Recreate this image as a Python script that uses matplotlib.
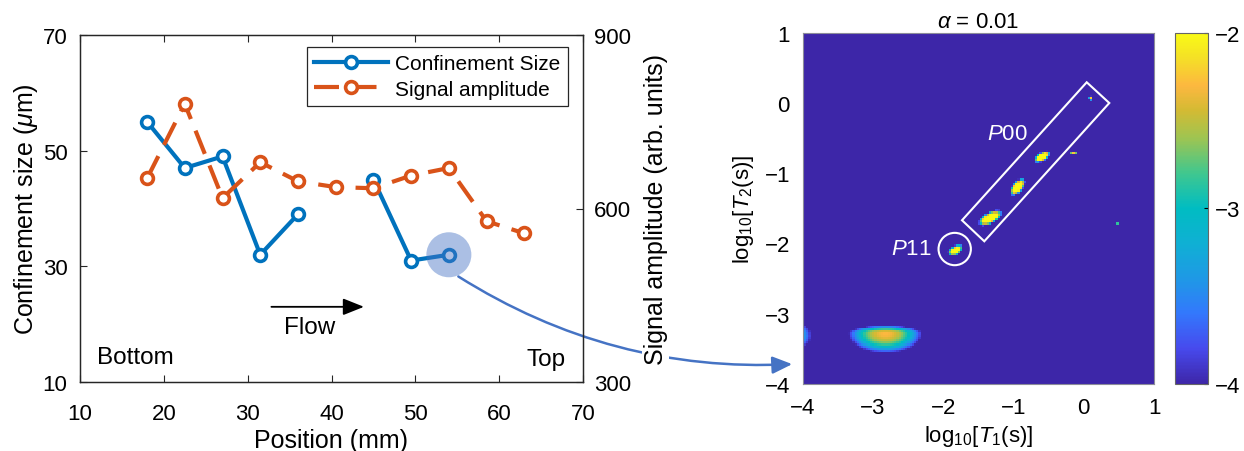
import numpy as np
import matplotlib
matplotlib.use("Agg")
import matplotlib.pyplot as plt
from matplotlib.colors import LinearSegmentedColormap
from matplotlib.patches import Ellipse, Polygon, Circle, FancyArrowPatch

plt.rcParams['font.family'] = ['Liberation Sans', 'DejaVu Sans']
plt.rcParams['mathtext.fontset'] = 'custom'
plt.rcParams['mathtext.rm'] = 'Liberation Sans'
plt.rcParams['mathtext.it'] = 'Liberation Sans:italic'
plt.rcParams['mathtext.bf'] = 'Liberation Sans:bold'

# ---------------- data: left panel ----------------
position_mm = [18, 22.5, 27, 31.5, 36, 40.5, 45, 49.5, 54, 58.5, 63]
confinement_um = [55, 47, 49, 32, 39, np.nan, 45, 31, 32, np.nan, np.nan]
signal_amplitude = [652, 781, 618, 680, 647, 637, 635, 657, 670, 578, 557]
highlight_index = 8
xticks_left = [10, 20, 30, 40, 50, 60, 70]
yticks_left = [10, 30, 50, 70]
yticks_right = [300, 600, 900]

# ---------------- data: T1-T2 map (log10 amplitude peaks) ----------------
peak_t1 = [-2.83, -4.10, -1.34, -0.95, -0.60, -1.83, 0.09, -0.156, 0.469]
peak_t2 = [-3.28, -3.31, -1.64, -1.20, -0.77, -2.10, 0.06, -0.719, -1.719]
peak_level = [-2.30, -3.10, -1.0, -1.0, -1.0, -1.4, -2.2, -2.25, -2.85]
peak_s_major = [0.185, 0.105, 0.050, 0.040, 0.035, 0.035, 0.012, 0.022, 0.010]
peak_s_minor_up = [0.040, 0.090, 0.022, 0.020, 0.016, 0.020, 0.012, 0.008, 0.010]
peak_s_minor_down = [0.100, 0.090, 0.022, 0.020, 0.016, 0.020, 0.012, 0.008, 0.010]
peak_angle_deg = [0, 0, 28, 50, 30, 30, 0, 0, 0]
map_ticks = [-4, -3, -2, -1, 0, 1]
cbar_ticks = [-4, -3, -2]
p00_box_corners = [(0.043, 0.292), (0.364, -0.003), (-1.414, -1.970), (-1.731, -1.671)]
p11_circle = (-1.835, -2.08, 0.23)

# ---------------- colours ----------------
blue = (0.0, 0.447, 0.741)
orange = (0.85, 0.325, 0.098)
axc = (0.15, 0.15, 0.15)
parula = LinearSegmentedColormap.from_list('parula', [
    (0.00, (0.242, 0.150, 0.660)),
    (0.10, (0.278, 0.290, 0.930)),
    (0.20, (0.200, 0.470, 0.990)),
    (0.30, (0.120, 0.600, 0.900)),
    (0.40, (0.060, 0.690, 0.830)),
    (0.50, (0.000, 0.740, 0.760)),
    (0.60, (0.250, 0.780, 0.560)),
    (0.70, (0.620, 0.770, 0.320)),
    (0.78, (0.830, 0.730, 0.200)),
    (0.85, (0.990, 0.720, 0.250)),
    (0.93, (0.960, 0.880, 0.150)),
    (1.00, (0.977, 0.984, 0.081)),
])

W, H = 1244, 452
fig = plt.figure(figsize=(W / 100, H / 100), dpi=100)
fig.patch.set_facecolor('white')

ax = fig.add_axes([80 / W, 1 - 383 / H, 503 / W, 347 / H])
ax.set_facecolor('none')
ax2 = ax.twinx()
ax2.set_facecolor('none')

l1, = ax.plot(position_mm, confinement_um, '-o', color=blue, lw=3, ms=8.5,
              mew=2.6, mfc='white', mec=blue, label='Confinement Size', zorder=3)
l2, = ax2.plot(position_mm, signal_amplitude, 'o', linestyle=(0, (6, 3)), color=orange,
               lw=3, ms=8.5, mew=2.6, mfc='white', mec=orange, label='Signal amplitude')

hx, hy = position_mm[highlight_index], confinement_um[highlight_index]
ax.add_patch(Ellipse((hx, hy), width=45 / (503 / 60), height=45 / (347 / 60),
                     facecolor=(0.27, 0.45, 0.77), alpha=0.45, edgecolor='none', zorder=4))

ax.set_xlim(10, 70)
ax.set_ylim(10, 70)
ax2.set_ylim(300, 900)
ax.set_xticks(xticks_left)
ax.set_yticks(yticks_left)
ax2.set_yticks(yticks_right)
ax.tick_params(direction='in', length=5, width=0.8, color=axc, labelcolor='black',
               labelsize=16, top=True)
ax.tick_params(axis='y', pad=9)
ax.tick_params(axis='x', pad=15)
ax2.tick_params(direction='in', length=5, width=0.8, color=axc, labelcolor='black',
                labelsize=16, pad=8)
for a in (ax, ax2):
    for s in a.spines.values():
        s.set_color(axc)
        s.set_linewidth(0.9)

ax.set_xlabel('Position (mm)', fontsize=18, labelpad=3)
ax.set_ylabel(r'Confinement size ($\mu$m)', fontsize=18, labelpad=2)
ax2.set_ylabel('Signal amplitude (arb. units)', fontsize=18, labelpad=9,
               bbox=dict(facecolor='white', edgecolor='none', pad=1))

leg = ax2.legend(handles=[l1, l2], loc='upper right', bbox_to_anchor=(0.970, 0.965),
                 borderaxespad=0, fontsize=15, handlelength=3.55, fancybox=False,
                 framealpha=1, edgecolor=axc, borderpad=0.35, labelspacing=0.3,
                 handletextpad=0.35)
leg.get_frame().set_linewidth(0.9)

ax.annotate('', xy=(44.2, 23.0), xytext=(32.5, 23.0),
            arrowprops=dict(arrowstyle='-|>,head_length=0.8,head_width=0.32', color='black', lw=1.3,
                            mutation_scale=16))
ax.text(37.4, 19.5, 'Flow', fontsize=17.5, ha='center', va='center')
ax.text(12.0, 14.3, 'Bottom', fontsize=17.5, ha='left', va='center')
ax.text(67.9, 14.0, 'Top', fontsize=17.5, ha='right', va='center')

# ---------------- T1-T2 map ----------------
hm = fig.add_axes([802.5 / W, 1 - 385 / H, 351.5 / W, 351.5 / H])
grid = np.linspace(-4, 1, 161)
T1, T2 = np.meshgrid(grid, grid)
lin = np.full_like(T1, 1e-12)
for t1, t2, lv, sa, su, sd, ang in zip(peak_t1, peak_t2, peak_level, peak_s_major,
                                       peak_s_minor_up, peak_s_minor_down, peak_angle_deg):
    th = np.deg2rad(ang)
    dx, dy = T1 - t1, T2 - t2
    u = dx * np.cos(th) + dy * np.sin(th)
    v = -dx * np.sin(th) + dy * np.cos(th)
    sv = np.where(v >= 0, su, sd)
    lin += 10 ** lv * np.exp(-0.5 * ((u / sa) ** 2 + (v / sv) ** 2))
Z = np.log10(lin)
step = grid[1] - grid[0]
im = hm.imshow(Z, origin='lower', cmap=parula, vmin=-4, vmax=-2, interpolation='nearest',
               extent=[grid[0] - step / 2, grid[-1] + step / 2, grid[0] - step / 2, grid[-1] + step / 2],
               aspect='auto')
hm.set_xlim(-4, 1)
hm.set_ylim(-4, 1)
hm.set_xticks(map_ticks)
hm.set_yticks(map_ticks)
hm.tick_params(length=0, labelsize=16, pad=9)
for s in hm.spines.values():
    s.set_color((0.55, 0.55, 0.6))
    s.set_linewidth(0.8)
hm.set_xlabel(r'$\mathrm{log}_{10}[T_1(\mathrm{s})]$', fontsize=16, labelpad=4)
hm.set_ylabel(r'$\mathrm{log}_{10}[T_2(\mathrm{s})]$', fontsize=16, labelpad=6)
hm.set_title(r'$\alpha$ = 0.01', fontsize=16, pad=2)

hm.add_patch(Polygon(p00_box_corners, closed=True, fill=False, edgecolor='white', lw=1.5))
hm.add_patch(Circle(p11_circle[:2], p11_circle[2], fill=False, edgecolor='white', lw=1.5))
hm.text(-1.08, -0.44, r'$P$00', color='white', fontsize=16, ha='center', va='center')
hm.text(-2.45, -2.07, r'$P$11', color='white', fontsize=16, ha='center', va='center')

cax = fig.add_axes([1175 / W, 1 - 385 / H, 33 / W, 351.5 / H])
cb = fig.colorbar(im, cax=cax, ticks=cbar_ticks)
cb.outline.set_edgecolor((0.4, 0.4, 0.4))
cb.outline.set_linewidth(0.8)
cax.tick_params(direction='in', length=3, width=0.8, labelsize=16, pad=5)

# curved connector arrow (figure pixels -> figure fraction)
arrow = FancyArrowPatch((456 / W, 1 - 276 / H), (795 / W, 1 - 365 / H),
                        transform=fig.transFigure, connectionstyle='arc3,rad=0.16',
                        arrowstyle='-|>,head_length=0.8,head_width=0.35', mutation_scale=15,
                        color=(0.27, 0.45, 0.77), lw=1.8, zorder=-1)
fig.patches.append(arrow)

fig.savefig('out.png', dpi=100)
